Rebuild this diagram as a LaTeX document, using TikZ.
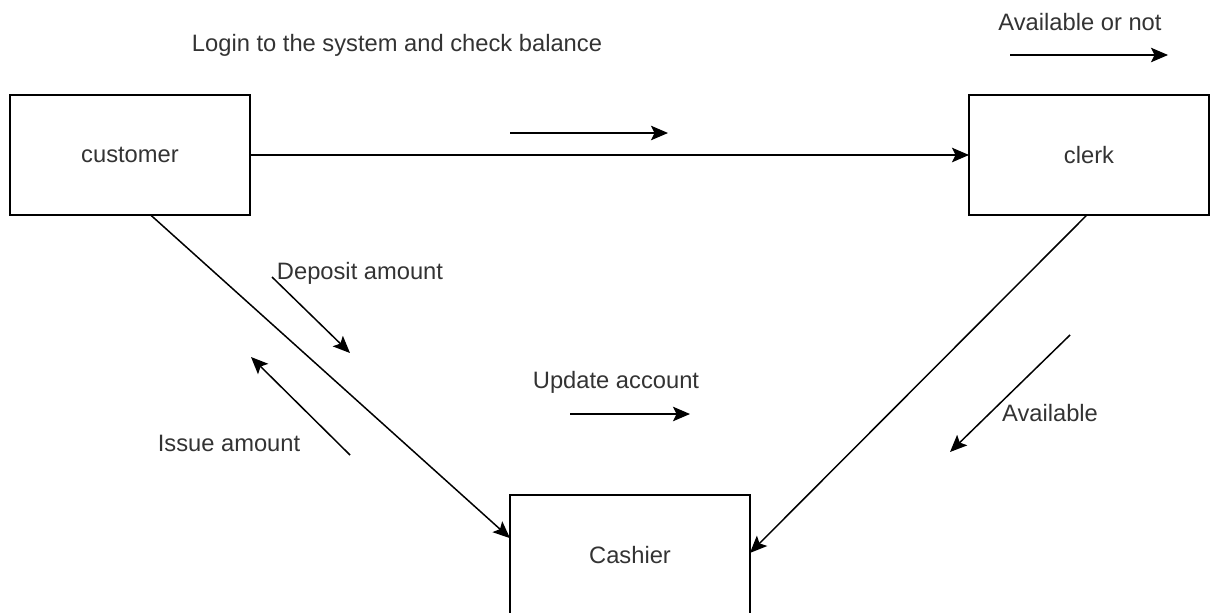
\documentclass[tikz,border=0pt]{standalone}
\usepackage{fontspec}
\setmainfont{Liberation Sans}
\usetikzlibrary{arrows.meta,positioning,calc}
\definecolor{inkgray}{RGB}{51,51,51}
\newcommand{\flowtext}[3]{\node[flowtag] (#1) at (#2) {#3};}
\tikzset{
	entitybox/.style={draw=black,line width=0.9pt,minimum width=4.8cm,minimum height=2.4cm,inner sep=0pt,outer sep=0pt,font=\fontsize{13.5}{16}\selectfont,text=inkgray},
	flowtag/.style={font=\fontsize{13.5}{16}\selectfont,text=inkgray,inner sep=0pt},
	flowline/.style={line width=0.85pt,-{Stealth[length=3.4mm,width=2.9mm,inset=0.7mm]}}
}

\begin{document}
\begin{tikzpicture}[x=0.02cm,y=-0.02cm]
		\useasboundingbox (0,0) rectangle (1212,612);
		\clip (0,0) rectangle (1212,612);
		% the three parties
		\node[entitybox] (customer) at (130,155) {customer};
		\node[entitybox] (clerk) at (1089,155) {clerk};
		\node[entitybox] (cashier) at (630,555) {Cashier};
		% connectors between them
		\draw[flowline] (customer.east) -- (clerk.west);
		\draw[flowline] (customer.-71.6) -- (cashier.172.9);
		\draw[flowline] (clerk.-92) -- (cashier.1.4);
		% message labels
		\flowtext{login}{397,45}{Login to the system and check balance}
		\flowtext{availnot}{1080,22}{Available or not}
		\flowtext{deposit}{360,273}{Deposit amount}
		\flowtext{issue}{229,443}{Issue amount}
		\flowtext{update}{616,382}{Update account}
		\flowtext{avail}{1050,413}{Available}
		% message arrows
		\coordinate (loginA) at (510,133);   \coordinate (loginB) at (668,133);
		\coordinate (availnotA) at (1010,55); \coordinate (availnotB) at (1168,55);
		\coordinate (depositA) at (272,277);  \coordinate (depositB) at (350,353);
		\coordinate (issueA) at (350,455);    \coordinate (issueB) at (251,357);
		\coordinate (updateA) at (570,414);   \coordinate (updateB) at (690,414);
		\coordinate (availA) at (1070,335);   \coordinate (availB) at (950,452);
		\draw[flowline] (loginA) -- (loginB);
		\draw[flowline] (availnotA) -- (availnotB);
		\draw[flowline] (depositA) -- (depositB);
		\draw[flowline] (issueA) -- (issueB);
		\draw[flowline] (updateA) -- (updateB);
		\draw[flowline] (availA) -- (availB);
\end{tikzpicture}
\end{document}
